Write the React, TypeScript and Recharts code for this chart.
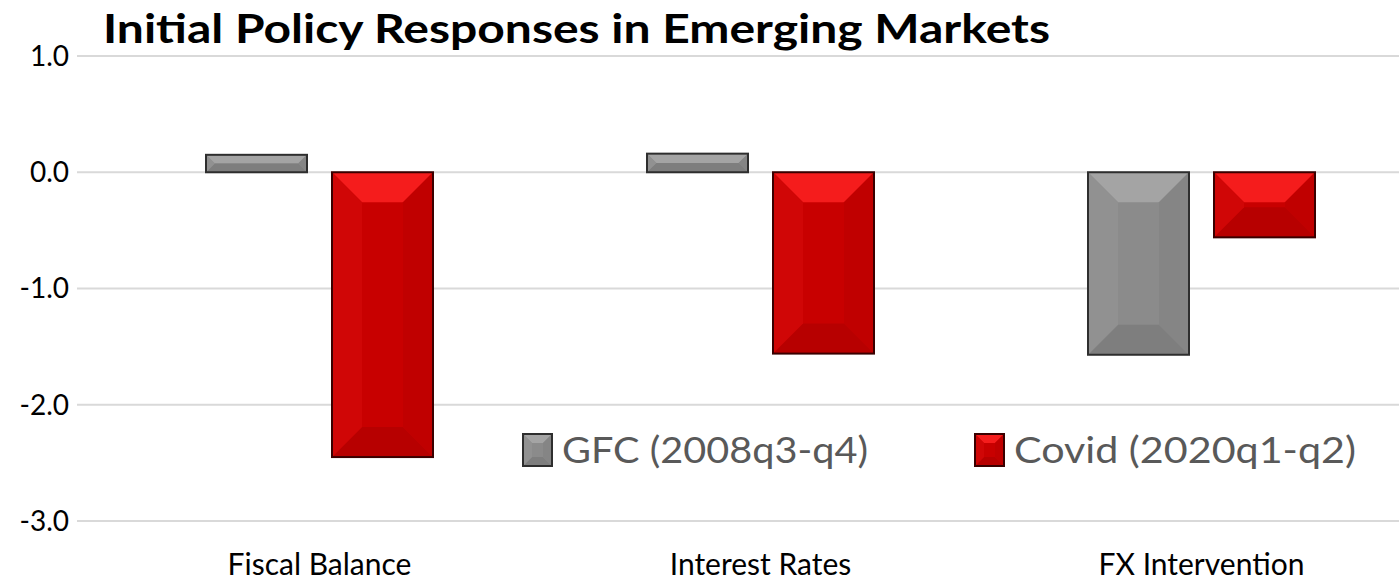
import React from "react";
import { BarChart, Bar, XAxis, YAxis, CartesianGrid } from "recharts";

const categories = ["Fiscal Balance", "Interest Rates", "FX Intervention"];
const gfcValues = [0.15, 0.16, -1.57];
const covidValues = [-2.45, -1.56, -0.56];
const yTicks = [1, 0, -1, -2, -3];
const seriesNames = ["GFC (2008q3-q4)", "Covid (2020q1-q2)"];
const title = "Initial Policy Responses in Emerging Markets";

const data = categories.map((name, i) => ({
  name,
  gfc: gfcValues[i],
  covid: covidValues[i],
}));

const FONT = "Lato, 'Open Sans', sans-serif";

type Palette = { base: string; top: string; bottom: string; left: string; right: string; border: string };

const grey: Palette = {
  base: "#8b8b8b",
  top: "#a4a4a4",
  bottom: "#7e7e7e",
  left: "#919191",
  right: "#858585",
  border: "#2e2e2e",
};
const red: Palette = {
  base: "#c80000",
  top: "#f51c1c",
  bottom: "#b70000",
  left: "#d00606",
  right: "#c00000",
  border: "#3a0000",
};

function bevelRect(x: number, y: number, w: number, h: number, p: Palette, maxBevel: number) {
  const b = Math.min(maxBevel, w / 2, h / 2);
  return (
    <g>
      <rect x={x} y={y} width={w} height={h} fill={p.base} />
      <polygon points={`${x},${y} ${x + w},${y} ${x + w - b},${y + b} ${x + b},${y + b}`} fill={p.top} />
      <polygon points={`${x},${y + h} ${x + w},${y + h} ${x + w - b},${y + h - b} ${x + b},${y + h - b}`} fill={p.bottom} />
      <polygon points={`${x},${y} ${x + b},${y + b} ${x + b},${y + h - b} ${x},${y + h}`} fill={p.left} />
      <polygon points={`${x + w},${y} ${x + w - b},${y + b} ${x + w - b},${y + h - b} ${x + w},${y + h}`} fill={p.right} />
      <rect x={x} y={y} width={w} height={h} fill="none" stroke={p.border} strokeWidth={2} />
    </g>
  );
}

const makeShape = (p: Palette) => (props: any) => {
  const { x, y, width, height } = props;
  if (width == null || height == null) return <g />;
  const y0 = Math.min(y, y + height);
  const h = Math.abs(height);
  return bevelRect(x, y0, width, h, p, 30);
};

export default function App() {
  return (
    <div style={{ position: "absolute", left: 0, top: 0, width: 1399, height: 581, overflow: "hidden", background: "#fff" }}>
      <BarChart
        width={1422}
        height={581}
        data={data}
        margin={{ top: 56, right: 0, bottom: 0, left: 0 }}
        barSize={101}
        barGap={25}
      >
        <CartesianGrid horizontal vertical={false} stroke="#d9d9d9" strokeWidth={2} />
        <XAxis
          dataKey="name"
          height={60}
          axisLine={false}
          tickLine={false}
          padding={{ left: 22, right: 0 }}
          tick={{ fontFamily: FONT, fontSize: 30, fill: "#000" }}
          tickMargin={27}
        />
        <YAxis
          width={77}
          domain={[-3, 1]}
          ticks={yTicks}
          axisLine={false}
          tickLine={false}
          tickFormatter={(v: number) => v.toFixed(1)}
          tick={{ fontFamily: FONT, fontSize: 28, fill: "#000" }}
          tickMargin={2}
        />
        <Bar dataKey="gfc" name={seriesNames[0]} isAnimationActive={false} shape={makeShape(grey)} />
        <Bar dataKey="covid" name={seriesNames[1]} isAnimationActive={false} shape={makeShape(red)} />
      </BarChart>
      <svg width={1399} height={581} style={{ position: "absolute", left: 0, top: 0, pointerEvents: "none" }}>
        <text x={103} y={43} fontFamily={FONT} fontWeight={700} fontSize={41} fill="#000" textLength={947} lengthAdjust="spacingAndGlyphs">
          {title}
        </text>
        {bevelRect(523, 434, 29, 32, grey, 9)}
        <text x={562} y={463} fontFamily={FONT} fontSize={36} fill="#595959" textLength={306} lengthAdjust="spacingAndGlyphs">
          {seriesNames[0]}
        </text>
        {bevelRect(975, 434, 29, 32, red, 9)}
        <text x={1014} y={463} fontFamily={FONT} fontSize={36} fill="#595959" textLength={342} lengthAdjust="spacingAndGlyphs">
          {seriesNames[1]}
        </text>
      </svg>
    </div>
  );
}
